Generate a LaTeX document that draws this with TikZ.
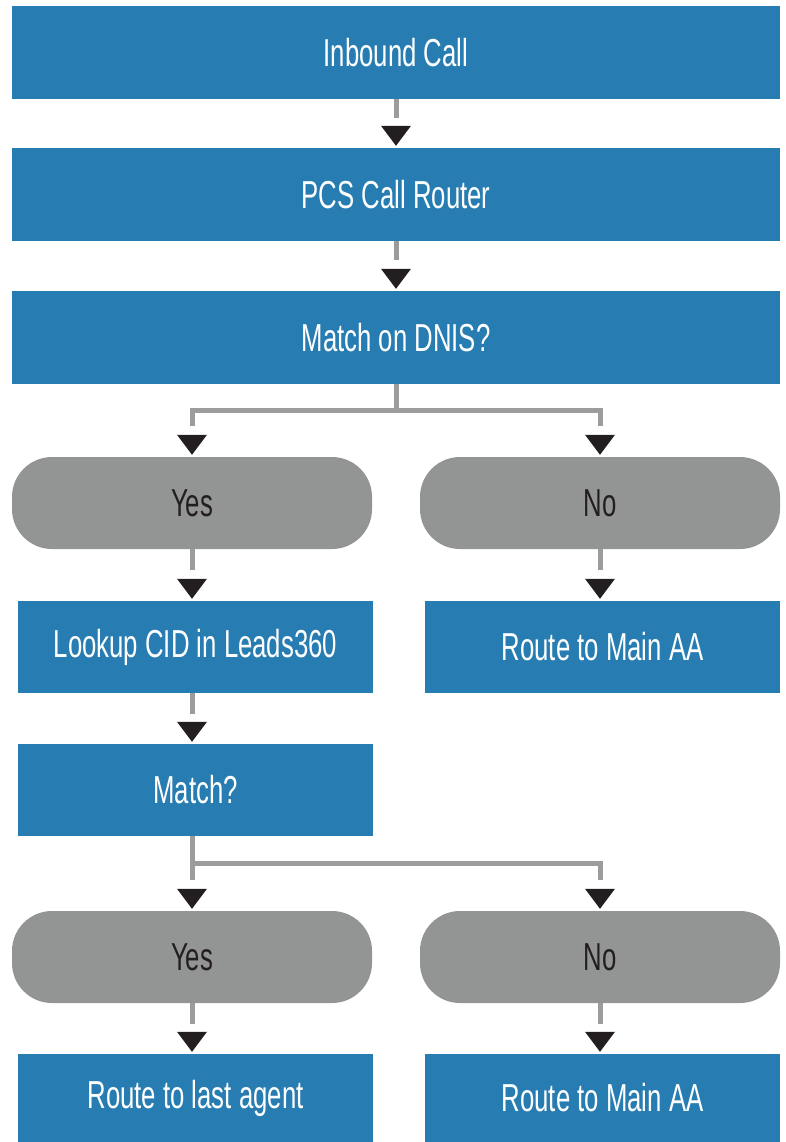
\documentclass[tikz,border=0pt]{standalone}
\usepackage{fontspec}
\setmainfont[FakeStretch=0.66]{Liberation Sans}
\usetikzlibrary{calc}
\definecolor{boxblue}{HTML}{277DB1}
\definecolor{pillgray}{HTML}{939594}
\definecolor{linegray}{HTML}{9C9C9C}
\definecolor{tipblack}{HTML}{231F20}
\begin{document}
\begin{tikzpicture}[x=1pt,y=-1pt,
  bluebox/.style={fill=boxblue, text=white, inner sep=0pt, font=\fontsize{39}{39}\selectfont},
  widebox/.style={bluebox, minimum width=768pt, minimum height=93pt},
  halfbox/.style={bluebox, minimum width=355pt, minimum height=92pt},
  pill/.style={fill=pillgray, text=tipblack, inner sep=0pt, rounded corners=40pt,
    minimum width=360pt, minimum height=92pt, font=\fontsize{39}{39}\selectfont},
  conn/.style={draw=linegray, line width=5pt},
  tip/.style={fill=tipblack}]
\useasboundingbox (0,0) rectangle (786,1142);

% nodes
\node[widebox] (inbound) at (396,52.5) {Inbound Call};
\node[widebox] (pcs) at (396,194.5) {PCS Call Router};
\node[widebox] (dnis) at (396,337.5) {Match on DNIS?};
\node[pill] (yes1) at (192,503) {Yes};
\node[pill] (no1) at (600,503) {No};
\node[halfbox] (lookup) at (195.5,647) {Lookup CID in Leads360};
\node[halfbox] (main1) at (602.5,647) {Route to Main AA};
\node[halfbox] (match) at (195.5,790) {Match?};
\node[pill] (yes2) at (192,957) {Yes};
\node[pill] (no2) at (600,957) {No};
\node[halfbox, minimum height=88pt] (last) at (195.5,1098) {Route to last agent};
\node[halfbox, minimum height=88pt] (main2) at (602.5,1098) {Route to Main AA};

% arrowhead helper
\newcommand\tipdown[1]{\fill[tip] ($#1+(-15,-22)$) -- ($#1+(15,-22)$) -- ($#1+(0,-2)$) -- cycle;}

% connectors
\draw[conn] (inbound.south) -- ++(0,19);
\tipdown{(pcs.north)}
\draw[conn] (pcs.south) -- ++(0,19);
\tipdown{(dnis.north)}

\draw[conn, shorten >=31pt] (dnis.south) -- ++(0,26) -| (yes1.north);
\draw[conn, shorten >=31pt] (dnis.south) -- ++(0,26) -| (no1.north);
\tipdown{(yes1.north)}
\tipdown{(no1.north)}

\draw[conn] (yes1.south) -- ++(0,21);
\tipdown{(yes1.south |- lookup.north)}
\draw[conn] (no1.south) -- ++(0,21);
\tipdown{(no1.south |- main1.north)}

\draw[conn] (yes1.south |- lookup.south) -- ++(0,21);
\tipdown{(yes1.south |- match.north)}

\draw[conn, shorten >=31pt] (yes2.north |- match.south) -- (yes2.north);
\draw[conn, shorten >=31pt] (yes2.north |- match.south) -- ++(0,27) -| (no2.north);
\tipdown{(yes2.north)}
\tipdown{(no2.north)}

\draw[conn] (yes2.south) -- ++(0,21);
\tipdown{(yes2.south |- last.north)}
\draw[conn] (no2.south) -- ++(0,21);
\tipdown{(no2.south |- main2.north)}
\end{tikzpicture}
\end{document}
